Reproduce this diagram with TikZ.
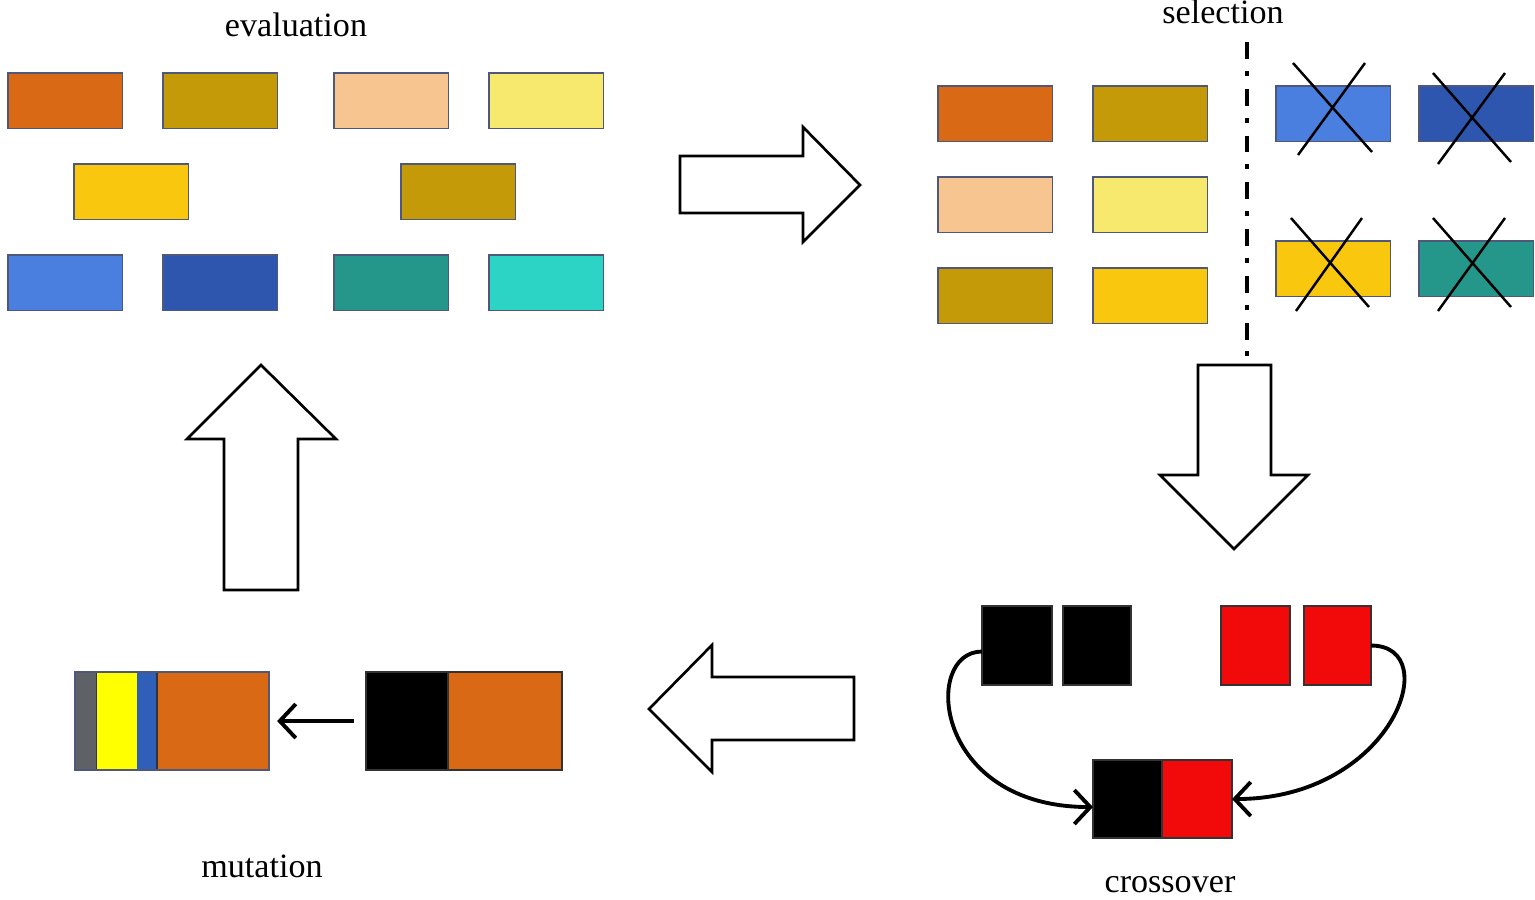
\documentclass[tikz,border=0pt]{standalone}
\usepackage{fontspec}
\setmainfont{Liberation Serif}
\usetikzlibrary{positioning,arrows.meta}

\definecolor{geneEdge}{HTML}{50587A}
\definecolor{geneOrange}{HTML}{D96914}
\definecolor{geneOlive}{HTML}{C49A08}
\definecolor{genePeach}{HTML}{F7C690}
\definecolor{geneCream}{HTML}{F7E86E}
\definecolor{geneGold}{HTML}{F9C80E}
\definecolor{geneBlue}{HTML}{4A7FE0}
\definecolor{geneNavy}{HTML}{2E56AE}
\definecolor{geneTeal}{HTML}{24968A}
\definecolor{geneCyan}{HTML}{2CD4C6}
\definecolor{crossRed}{HTML}{F20A0A}
\definecolor{mutGray}{HTML}{5E6266}
\definecolor{mutYellow}{HTML}{FFFF00}
\definecolor{mutBlue}{HTML}{2F5FB8}

\begin{document}
\begin{tikzpicture}[x=0.01cm, y=-0.01cm,
  gene/.style={rectangle, draw=geneEdge, line width=0.3pt, fill=#1, minimum width=1.14cm, minimum height=0.55cm, inner sep=0pt, outer sep=0pt, anchor=north west},
  block/.style={rectangle, draw=black!80, line width=0.4pt, fill=#1, inner sep=0pt, outer sep=0pt, anchor=north west},
  bigarrow/.style={draw=black, line width=0.75pt, line join=miter, fill=white},
  cross/.style={draw=black, line width=0.7pt},
  divider/.style={draw=black, line width=1.1pt, dash pattern=on 4.8pt off 3.4pt on 1.4pt off 3.7pt},
  link/.style={draw=black, line width=1.1pt, -{Straight Barb[length=1.6mm,width=3.4mm]}},
  caption/.style={anchor=base, font=\fontsize{9.7}{11}\selectfont}]

\useasboundingbox (0,0) rectangle (1535,899);

% evaluation
\node[caption] (evaltext) at (296,36) {evaluation};
\node[gene=geneOrange] (e1) at (8,73) {};
\node[gene=geneOlive] (e2) at (163,73) {};
\node[gene=genePeach] (e3) at (334,73) {};
\node[gene=geneCream] (e4) at (489,73) {};
\node[gene=geneGold] (e5) at (74,164) {};
\node[gene=geneOlive] (e6) at (401,164) {};
\node[gene=geneBlue] (e7) at (8,255) {};
\node[gene=geneNavy] (e8) at (163,255) {};
\node[gene=geneTeal] (e9) at (334,255) {};
\node[gene=geneCyan] (e10) at (489,255) {};

% selection
\node[caption] (seltext) at (1223,23) {selection};
\node[gene=geneOrange] (s1) at (938,86) {};
\node[gene=geneOlive] (s2) at (1093,86) {};
\node[gene=genePeach] (s3) at (938,177) {};
\node[gene=geneCream] (s4) at (1093,177) {};
\node[gene=geneOlive] (s5) at (938,268) {};
\node[gene=geneGold] (s6) at (1093,268) {};
\draw[divider] (1247,42) -- (1247,357);
\node[gene=geneBlue] (r1) at (1276,86) {};
\node[gene=geneNavy] (r2) at (1419,86) {};
\node[gene=geneGold] (r3) at (1276,241) {};
\node[gene=geneTeal] (r4) at (1419,241) {};
\draw[cross] (1293,63) -- (1372,152) (1365,63) -- (1298,155);
\draw[cross] (1433,73) -- (1511,162) (1505,73) -- (1438,164);
\draw[cross] (1291,218) -- (1369,307) (1362,218) -- (1296,311);
\draw[cross] (1433,218) -- (1511,307) (1505,218) -- (1438,311);

% big arrows
\draw[bigarrow] (680,156) -- (803,156) -- (803,127) -- (860,185) -- (803,242) -- (803,213) -- (680,213) -- cycle;
\draw[bigarrow] (1198,365) -- (1271,365) -- (1271,475) -- (1308,475) -- (1234,549) -- (1160,475) -- (1198,475) -- cycle;
\draw[bigarrow] (854,677) -- (712,677) -- (712,645) -- (649,709) -- (712,772) -- (712,740) -- (854,740) -- cycle;
\draw[bigarrow] (224,590) -- (224,439) -- (187,439) -- (261,365) -- (336,439) -- (298,439) -- (298,590) -- cycle;

% crossover
\node[block=black, minimum width=0.70cm, minimum height=0.79cm] (p1) at (982,606) {};
\node[block=black, minimum width=0.68cm, minimum height=0.79cm] (p2) at (1063,606) {};
\node[block=crossRed, minimum width=0.69cm, minimum height=0.79cm] (q1) at (1221,606) {};
\node[block=crossRed, minimum width=0.67cm, minimum height=0.79cm] (q2) at (1304,606) {};
\node[block=black, minimum width=0.69cm, minimum height=0.78cm] (c1) at (1093,760) {};
\node[block=crossRed, minimum width=0.70cm, minimum height=0.78cm, right=0pt of c1] (c2) {};
\draw[link] ([yshift=-0.06cm]p1.west) to[out=180, in=180, out distance=0.6cm, in distance=1.6cm] ([yshift=-0.08cm]c1.west);
\draw[link] (q2.east) to[out=0, in=0, out distance=0.75cm, in distance=1.6cm] (c2.east);
\node[caption] (crosstext) at (1170,892) {crossover};

% mutation
\node[block=mutGray, minimum width=0.22cm, minimum height=0.98cm] (m1) at (75,672) {};
\node[block=mutYellow, draw=none, minimum width=0.40cm, minimum height=0.98cm, right=0pt of m1] (m2) {};
\node[block=mutBlue, draw=none, minimum width=0.20cm, minimum height=0.98cm, right=0pt of m2] (m3) {};
\node[block=geneOrange, minimum width=1.12cm, minimum height=0.98cm, right=0pt of m3] (m4) {};
\draw[geneEdge, line width=0.4pt] (m1.north west) rectangle (m4.south east);
\node[block=black, minimum width=0.82cm, minimum height=0.98cm] (n1) at (366,672) {};
\node[block=geneOrange, minimum width=1.14cm, minimum height=0.98cm, right=0pt of n1] (n2) {};
\draw[link, shorten <=0.12cm, shorten >=0.08cm] (n1.west) -- (m4.east);
\node[caption] (muttext) at (262,877) {mutation};
\end{tikzpicture}
\end{document}
